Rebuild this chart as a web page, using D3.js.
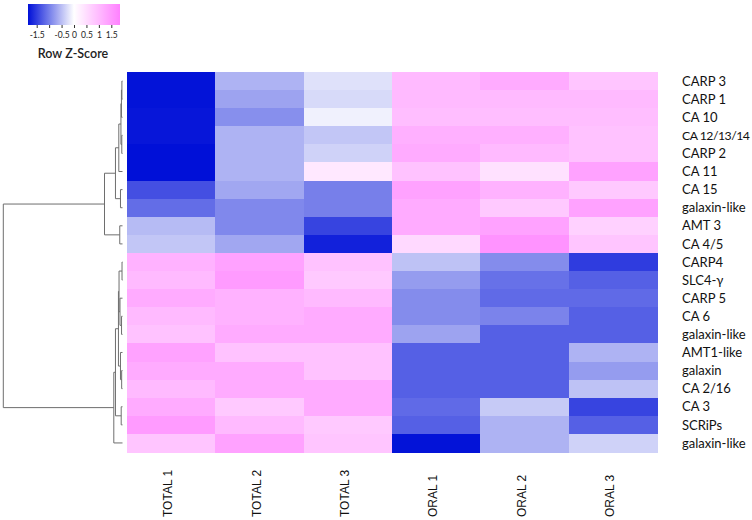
<!DOCTYPE html>
<html>
<head>
<meta charset="utf-8">
<script src="https://cdn.jsdelivr.net/npm/d3@7"></script>
<style>
  html, body { margin: 0; padding: 0; background: #ffffff; }
  svg { display: block; }
</style>
</head>
<body>
<svg id="chart" width="752" height="520"></svg>
<script>
// ---------------- DATA ----------------
const columns = ["TOTAL 1", "TOTAL 2", "TOTAL 3", "ORAL 1", "ORAL 2", "ORAL 3"];
const rows = ["CARP 3", "CARP 1", "CA 10", "CA 12/13/14", "CARP 2", "CA 11", "CA 15",
  "galaxin-like", "AMT 3", "CA 4/5", "CARP4", "SLC4-γ", "CARP 5", "CA 6", "galaxin-like",
  "AMT1-like", "galaxin", "CA 2/16", "CA 3", "SCRiPs", "galaxin-like"];
// Row Z-scores (rows in display order, columns as above)
const zscores = [
  [-1.83, -0.59, -0.23, 1.01, 1.23, 0.84],
  [-1.83, -0.71, -0.29, 1.01, 1.01, 1.01],
  [-1.80, -0.87, -0.11, 0.95, 0.95, 0.95],
  [-1.80, -0.59, -0.44, 1.15, 1.15, 0.89],
  [-1.85, -0.59, -0.35, 1.23, 1.01, 0.89],
  [-1.90, -0.59, 0.33, 0.89, 0.44, 1.35],
  [-1.36, -0.68, -0.99, 1.35, 1.12, 0.78],
  [-1.13, -0.92, -0.99, 1.23, 0.78, 1.35],
  [-0.53, -0.92, -1.45, 1.23, 1.35, 0.67],
  [-0.44, -0.68, -1.72, 0.55, 1.57, 0.84],
  [1.12, 1.35, 0.89, -0.47, -0.89, -1.51],
  [1.01, 1.46, 0.78, -0.77, -1.10, -1.23],
  [1.23, 1.12, 1.01, -0.89, -1.15, -1.15],
  [1.01, 1.12, 1.23, -0.89, -0.96, -1.23],
  [0.89, 1.23, 1.23, -0.71, -1.23, -1.23],
  [1.35, 0.89, 0.89, -1.23, -1.23, -0.59],
  [1.23, 1.23, 0.89, -1.23, -1.23, -0.77],
  [1.01, 1.23, 1.23, -1.23, -1.23, -0.47],
  [1.23, 0.78, 1.23, -1.15, -0.41, -1.45],
  [1.46, 1.01, 0.78, -1.23, -0.59, -1.23],
  [0.84, 1.35, 0.84, -1.83, -0.59, -0.35]
];
// Row dendrogram (hclust-style merges: negative = leaf row number, positive = earlier merge)
const mergeLeft   = [-1, -3, -4, 2, 4, -7, 5, -9, 7, -11, -14, -13, 10, -17, -16, 13, -19, 16, 18, 9];
const mergeRight  = [-2, 1, -5, 3, -6, -8, 6, -10, 8, -12, -15, 11, 12, -18, 14, 15, -20, 17, -21, 19];
const mergeHeight = [0.05, 0.09, 0.06, 0.13, 0.31, 0.17, 0.59, 0.23, 1.51, 0.04, 0.08, 0.21, 0.29, 0.07, 0.17, 0.34, 0.11, 0.59, 0.73, 10.0];
// Colour key
const keyTicks = [-1.5, -1, -0.5, 0, 0.5, 1, 1.5];
const keyTickLabels = ["-1.5", "", "-0.5", "0", "0.5", "1", "1.5"];
const keyTitle = "Row Z-Score";

// ---------------- LAYOUT ----------------
const svg = d3.select("#chart");
const hm = { left: 127, right: 657, top: 72, bottom: 452 };

const x = d3.scaleBand().domain(d3.range(columns.length)).range([hm.left, hm.right]).paddingInner(0).paddingOuter(0);
const y = d3.scaleBand().domain(d3.range(rows.length)).range([hm.top, hm.bottom]).paddingInner(0).paddingOuter(0);

const color = d3.scaleLinear()
  .domain([-1.85, 0, 1.85])
  .range(["#0010d8", "#ffffff", "#ff80ff"])
  .interpolate(d3.interpolateRgb)
  .clamp(true);

// ---------------- HEATMAP ----------------
const cells = [];
zscores.forEach((r, i) => r.forEach((v, j) => cells.push({ i, j, v })));
svg.append("g").attr("shape-rendering", "crispEdges")
  .selectAll("rect").data(cells).join("rect")
  .attr("x", d => x(d.j))
  .attr("y", d => y(d.i))
  .attr("width", x.bandwidth() + 0.5)
  .attr("height", y.bandwidth() + 0.5)
  .attr("fill", d => color(d.v));

// Row labels
const labelX = 682;
const rowText = svg.append("g").selectAll("text").data(rows).join("text")
  .attr("x", labelX)
  .attr("y", (d, i) => y(i) + y.bandwidth() / 2)
  .attr("dy", "0.36em")
  .attr("font-family", "Lato, 'Open Sans', sans-serif")
  .attr("font-size", 13)
  .attr("fill", "#111")
  .text(d => d);
rowText.each(function () {
  const el = d3.select(this);
  let ls = 0, fs = 13;
  while (labelX + this.getComputedTextLength() > 750 && ls > -0.5) {
    ls -= 0.1;
    el.attr("letter-spacing", ls.toFixed(2));
  }
  while (labelX + this.getComputedTextLength() > 750 && fs > 9) {
    fs -= 0.25;
    el.attr("font-size", fs);
  }
});

// Column labels (rotated)
svg.append("g").selectAll("text").data(columns).join("text")
  .attr("transform", (d, j) => `translate(${x(j) + x.bandwidth() / 2 + 1},517) rotate(-90)`)
  .attr("text-anchor", "start")
  .attr("font-family", "'Liberation Sans', Arial, sans-serif")
  .attr("font-size", 12)
  .attr("fill", "#111")
  .text(d => d);

// ---------------- DENDROGRAM ----------------
const hx = d3.scaleLinear().domain([0, 10]).range([122.5, 3.3]);
const nodes = [];
function pos(ref) {
  if (ref < 0) return { x: hx(0), y: y(-ref - 1) + y.bandwidth() / 2 };
  return nodes[ref - 1];
}
const segs = [];
mergeLeft.forEach((l, k) => {
  const a = pos(l), b = pos(mergeRight[k]);
  const nx = hx(mergeHeight[k]);
  const ny = (a.y + b.y) / 2;
  nodes.push({ x: nx, y: ny });
  segs.push([[a.x, a.y], [nx, a.y], [nx, b.y], [b.x, b.y]]);
});
svg.append("g").selectAll("path").data(segs).join("path")
  .attr("d", d => d3.line()(d))
  .attr("fill", "none")
  .attr("stroke", "#6e6e6e")
  .attr("stroke-width", 1);

// ---------------- COLOUR KEY ----------------
const kx = d3.scaleLinear().domain([-1.85, 1.85]).range([28, 120]);
const defs = svg.append("defs");
const grad = defs.append("linearGradient").attr("id", "keygrad").attr("x1", "0%").attr("x2", "100%");
d3.range(0, 1.0001, 0.05).forEach(t => {
  grad.append("stop").attr("offset", (t * 100) + "%").attr("stop-color", color(kx.invert(28 + t * 92)));
});
svg.append("rect").attr("x", kx.range()[0]).attr("y", 4)
  .attr("width", kx.range()[1] - kx.range()[0]).attr("height", 21)
  .attr("fill", "url(#keygrad)");

const keyAxis = d3.axisBottom(kx).tickValues(keyTicks)
  .tickFormat((d, i) => keyTickLabels[i]).tickSize(3).tickPadding(4);
const ka = svg.append("g").attr("transform", "translate(0,25)").call(keyAxis);
ka.select(".domain").remove();
ka.selectAll(".tick line").attr("stroke", "#333");
ka.selectAll(".tick text").attr("font-family", "Lato, sans-serif").attr("font-size", 8.5).attr("fill", "#222");

svg.append("text").attr("x", 73).attr("y", 58)
  .attr("text-anchor", "middle")
  .attr("font-family", "Lato, sans-serif")
  .attr("font-size", 12.5).attr("font-weight", 600)
  .attr("fill", "#222")
  .text(keyTitle);
</script>
</body>
</html>
